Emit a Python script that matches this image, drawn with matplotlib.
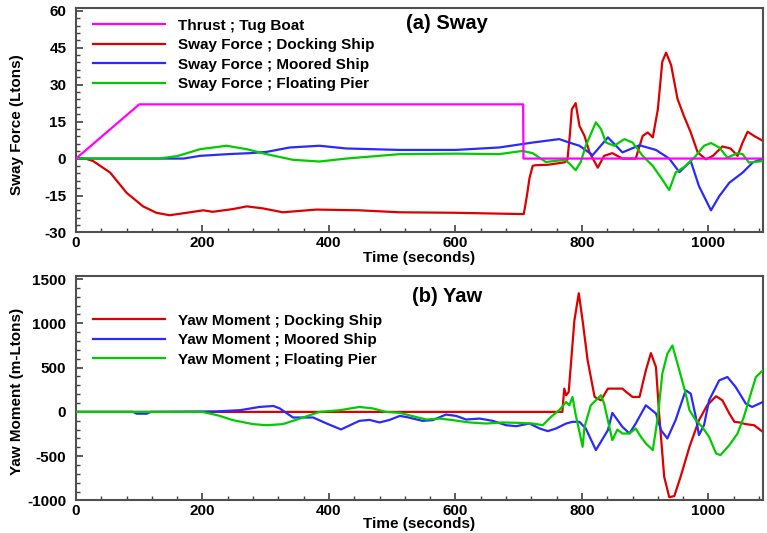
import matplotlib
matplotlib.use("Agg")
import matplotlib.pyplot as plt
from matplotlib.ticker import MultipleLocator

plt.rcParams['font.family'] = ['Liberation Sans', 'DejaVu Sans']
plt.rcParams['font.weight'] = 'bold'
plt.rcParams['axes.unicode_minus'] = False

# ---- data (time in seconds, value) ----
# (a) sway forces, Ltons
thrust_tug = [(0, 0), (100, 22), (707, 22), (707.5, 0), (1086, 0)]

sway_docking = [(0, 0), (15, 0), (27, -1), (54, -5.7), (80, -13.9), (106, -19.4),
                (127, -22), (148, -23), (175, -22), (201, -21), (216, -21.6),
                (248, -20.5), (270, -19.4), (295, -20.2), (327, -21.8), (380, -20.7),
                (448, -21), (512, -21.8), (600, -22), (700, -22.5), (708, -22.5),
                (713, -15), (717, -8), (722, -3), (726, -2.7), (747, -2.5),
                (773, -1.5), (777, -0.5), (781, 10), (784, 20), (790, 22.5),
                (796, 13.3), (804, 9.2), (812, 2.5), (825, -3.7), (835, 1.1),
                (848, 2.2), (864, 0), (885, 0), (896, 9.2), (904, 10.6), (912, 8.6),
                (920, 20), (927, 39.3), (933, 43), (941, 37.9), (951, 24.3),
                (961, 17.4), (972, 10.6), (983, 2.5), (996, -0.3), (1007, 1.1),
                (1022, 4.9), (1035, 4.1), (1046, 1.1), (1054, 6.5), (1062, 10.9),
                (1072, 9.2), (1086, 7.2)]

sway_moored = [(0, 0), (170, 0), (196, 1.1), (240, 1.8), (275, 2.2), (301, 2.7),
               (338, 4.5), (385, 5.2), (427, 4.1), (512, 3.5), (600, 3.5),
               (669, 4.5), (722, 6.5), (764, 7.9), (780, 6.5), (796, 5.2),
               (817, 1.4), (841, 8.6), (864, 2.5), (891, 5.4), (917, 3.5),
               (938, 0), (954, -5.5), (972, -1), (985, -11.2), (1004, -21),
               (1017, -15.3), (1033, -9.8), (1054, -5.7), (1070, -1.6), (1086, 0)]

sway_pier = [(0, 0), (130, 0), (160, 1), (196, 3.8), (238, 5.2), (270, 3.8),
             (301, 1.8), (343, -0.5), (385, -1.2), (427, 0), (512, 1.8), (600, 2),
             (669, 1.8), (706, 3.1), (722, 2.2), (743, -1.4), (773, -0.5),
             (780, -2), (790, -4.7), (798, -1.4), (806, 5.2), (822, 14.7),
             (830, 12), (838, 6.5), (851, 5.2), (867, 7.9), (880, 6.5), (896, 1.1),
             (912, -3), (927, -8.5), (938, -12.8), (948, -5.7), (964, -3),
             (980, 1.1), (993, 5.2), (1004, 6.3), (1017, 4.5), (1030, 0.4),
             (1046, 2.2), (1054, 1.8), (1064, -1.6), (1086, -1)]

# (b) yaw moments, m-Ltons
yaw_docking = [(0, 0), (769, 0), (772, 263), (775, 188), (779, 225), (783, 581),
               (788, 1031), (795, 1340), (801, 1031), (809, 581), (820, 169),
               (830, 131), (841, 263), (864, 263), (870, 225), (880, 169),
               (891, 169), (901, 469), (909, 664), (917, 506), (922, -18),
               (930, -731), (938, -963), (946, -950), (956, -731), (970, -394),
               (985, -93), (998, 75), (1012, 177), (1022, 131), (1033, -18),
               (1041, -112), (1049, -119), (1059, -138), (1072, -150), (1086, -225)]

yaw_moored = [(0, 0), (90, 0), (96, -20), (112, -20), (118, 0), (220, 5),
              (260, 20), (290, 56), (312, 67), (322, 40), (343, -63), (375, -63),
              (396, -130), (419, -198), (448, -101), (464, -90), (480, -119),
              (496, -90), (512, -45), (524, -60), (548, -101), (564, -93),
              (585, -30), (601, -45), (617, -86), (638, -75), (659, -101),
              (680, -150), (696, -161), (717, -131), (733, -187), (746, -217),
              (759, -187), (775, -131), (785, -112), (796, -112), (806, -187),
              (822, -431), (841, -206), (848, -11), (864, -169), (875, -243),
              (885, -131), (901, 75), (917, -18), (925, -206), (935, -300),
              (948, -93), (964, 244), (972, 206), (980, -56), (985, -262),
              (993, -150), (1001, 131), (1017, 356), (1030, 394), (1043, 281),
              (1059, 94), (1069, 56), (1086, 112)]

yaw_pier = [(0, 0), (200, 0), (225, -40), (248, -93), (280, -138), (301, -150),
            (327, -138), (354, -75), (385, 0), (417, 19), (448, 56), (469, 40),
            (490, 0), (512, -11), (533, -49), (554, -86), (575, -75), (596, -93),
            (622, -119), (648, -131), (675, -119), (701, -124), (722, -131),
            (738, -150), (751, -56), (764, 19), (775, 112), (780, 75), (785, 169),
            (790, -30), (796, -225), (801, -394), (804, -169), (814, 75),
            (822, 131), (830, 188), (835, 94), (848, -319), (856, -200),
            (864, -244), (875, -244), (885, -187), (893, -280), (901, -356),
            (912, -431), (920, -56), (927, 431), (935, 656), (943, 750),
            (954, 469), (964, 206), (970, 19), (980, -93), (990, -169),
            (1001, -281), (1012, -469), (1019, -488), (1033, -375), (1046, -244),
            (1056, -56), (1067, 206), (1075, 394), (1086, 469)]

MAGENTA = '#ff00ff'
RED = '#dd0000'
BLUE = '#2a2aff'
GREEN = '#00cc00'
LW = 1.6
FS = 11


def xy(pairs):
    t, v = zip(*pairs)
    return list(t), list(v)


def style_axes(ax, ymin, ymax, ymajor, yminor):
    ax.set_xlim(0, 1087)
    ax.set_ylim(ymin, ymax)
    ax.xaxis.set_major_locator(MultipleLocator(200))
    ax.xaxis.set_minor_locator(MultipleLocator(40))
    ax.yaxis.set_major_locator(MultipleLocator(ymajor))
    ax.yaxis.set_minor_locator(MultipleLocator(yminor))
    ax.tick_params(which='both', direction='in', top=False, right=False,
                   colors='#404040', labelcolor='black', labelsize=FS)
    ax.tick_params(which='major', length=5, width=1.2)
    ax.tick_params(which='minor', length=3, width=1)
    ax.tick_params(axis='x', pad=2.5)
    ax.tick_params(axis='y', pad=7)
    for lab in ax.get_xticklabels() + ax.get_yticklabels():
        lab.set_fontweight('bold')
    for sp in ax.spines.values():
        sp.set_color('#505050')
        sp.set_linewidth(1.5)


fig = plt.figure(figsize=(7.67, 5.33), dpi=100)
ax1 = fig.add_axes([0.0991, 0.5638, 0.8963, 0.4221])
ax2 = fig.add_axes([0.0991, 0.0610, 0.8963, 0.4221])

# (a) Sway
l0, = ax1.plot(*xy(thrust_tug), color=MAGENTA, lw=LW, zorder=5)
l1, = ax1.plot(*xy(sway_docking), color=RED, lw=LW, zorder=2)
l2, = ax1.plot(*xy(sway_moored), color=BLUE, lw=LW, zorder=3)
l3, = ax1.plot(*xy(sway_pier), color=GREEN, lw=LW, zorder=4)
style_axes(ax1, -30, 61.3, 15, 3)
ax1.legend([l0, l1, l2, l3],
           ['Thrust ; Tug Boat', 'Sway Force ; Docking Ship',
            'Sway Force ; Moored Ship', 'Sway Force ; Floating Pier'],
           loc='upper left', bbox_to_anchor=(0.0247, 0.95), frameon=False,
           prop={'size': FS, 'weight': 'bold'}, handlelength=4.7,
           handletextpad=0.85, labelspacing=0.36, borderpad=0, borderaxespad=0)
ax1.text(0.54, 0.93, '(a) Sway', transform=ax1.transAxes, ha='center',
         va='center', fontsize=14.5, fontweight='bold')

# (b) Yaw
m1, = ax2.plot(*xy(yaw_docking), color=RED, lw=LW, zorder=2)
m2, = ax2.plot(*xy(yaw_moored), color=BLUE, lw=LW, zorder=3)
m3, = ax2.plot(*xy(yaw_pier), color=GREEN, lw=LW, zorder=4)
style_axes(ax2, -1000, 1540, 500, 100)
ax2.legend([m1, m2, m3],
           ['Yaw Moment ; Docking Ship', 'Yaw Moment ; Moored Ship',
            'Yaw Moment ; Floating Pier'],
           loc='upper left', bbox_to_anchor=(0.0247, 0.83), frameon=False,
           prop={'size': FS, 'weight': 'bold'}, handlelength=4.7,
           handletextpad=0.85, labelspacing=0.36, borderpad=0, borderaxespad=0)
ax2.text(0.54, 0.905, '(b) Yaw', transform=ax2.transAxes, ha='center',
         va='center', fontsize=14.5, fontweight='bold')

# axis titles placed in figure pixels
W, H = 767, 533
fig.text(419.5 / W, 1 - 251 / H, 'Time (seconds)', ha='center', va='top',
         fontsize=FS, fontweight='bold')
fig.text(419.5 / W, 1 - 517 / H, 'Time (seconds)', ha='center', va='top',
         fontsize=FS, fontweight='bold')
fig.text(17.5 / W, 1 - 124.5 / H, 'Sway Force (Ltons)', rotation=90,
         ha='center', va='center', fontsize=FS, fontweight='bold')
fig.text(17.5 / W, 1 - 391 / H, 'Yaw Moment (m-Ltons)', rotation=90,
         ha='center', va='center', fontsize=FS, fontweight='bold')

fig.savefig('out.png', dpi=100)
